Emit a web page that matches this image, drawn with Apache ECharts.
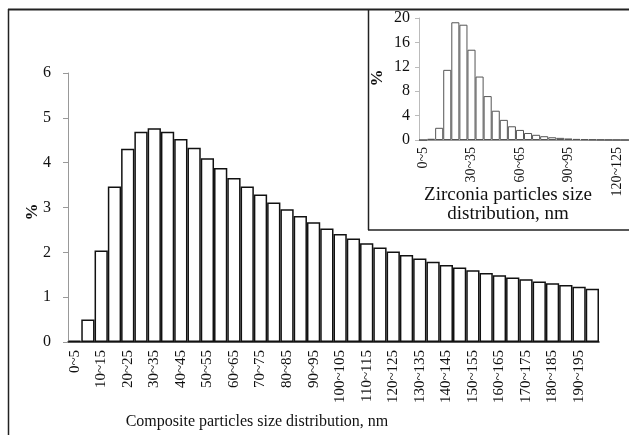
<!DOCTYPE html>
<html>
<head>
<meta charset="utf-8">
<script src="https://cdn.jsdelivr.net/npm/echarts@6/dist/echarts.min.js"></script>
<style>html,body{margin:0;padding:0;background:#fff}#c{width:629px;height:435px}</style>
</head>
<body>
<div id="c"></div>
<script>
var mainCategories = ["0~5","5~10","10~15","15~20","20~25","25~30","30~35","35~40","40~45","45~50",
"50~55","55~60","60~65","65~70","70~75","75~80","80~85","85~90","90~95","95~100",
"100~105","105~110","110~115","115~120","120~125","125~130","130~135","135~140","140~145","145~150",
"150~155","155~160","160~165","165~170","170~175","175~180","180~185","185~190","190~195","195~200"];
var mainValues = [0.03,0.50,2.04,3.47,4.31,4.69,4.77,4.69,4.53,4.33,
4.10,3.88,3.66,3.47,3.29,3.11,2.96,2.81,2.67,2.53,
2.41,2.31,2.20,2.11,2.02,1.94,1.86,1.79,1.72,1.66,
1.60,1.54,1.49,1.44,1.40,1.35,1.31,1.27,1.23,1.19];
var mainYTicks = {min:0, max:6, interval:1};

var insetCategories = ["0~5","5~10","10~15","15~20","20~25","25~30","30~35","35~40","40~45","45~50",
"50~55","55~60","60~65","65~70","70~75","75~80","80~85","85~90","90~95","95~100",
"100~105","105~110","110~115","115~120","120~125","125~130"];
var insetValues = [0,0.2,2.0,11.5,19.3,18.9,14.8,10.4,7.2,4.8,
3.3,2.25,1.65,1.15,0.85,0.62,0.45,0.35,0.25,0.18,
0.13,0.1,0.07,0.05,0.04,0.03];
var insetYTicks = {min:0, max:20, interval:4};

var F = '"Liberation Serif","DejaVu Serif",serif';
var chart = echarts.init(document.getElementById('c'));
chart.setOption({
  animation:false,
  backgroundColor:'#fff',
  grid:[
    {left:68, top:73, width:531, height:269},
    {left:419, top:18, width:213, height:122}
  ],
  xAxis:[
    {type:'category', gridIndex:0, data:mainCategories,
     axisLine:{lineStyle:{color:'#222', width:1.5}},
     axisTick:{interval:0, length:5, lineStyle:{color:'#222'}},
     axisLabel:{interval:1, rotate:90, fontFamily:F, fontSize:15, color:'#111', margin:8}},
    {type:'category', gridIndex:1, data:insetCategories,
     axisLine:{lineStyle:{color:'#999', width:1}},
     axisTick:{interval:0, length:4, lineStyle:{color:'#999'}},
     axisLabel:{interval:5, rotate:90, fontFamily:F, fontSize:14, color:'#111', margin:7}}
  ],
  yAxis:[
    {type:'value', gridIndex:0, min:mainYTicks.min, max:mainYTicks.max, interval:mainYTicks.interval,
     splitLine:{show:false},
     axisLine:{show:true, lineStyle:{color:'#999'}},
     axisTick:{show:true, length:5, lineStyle:{color:'#999'}},
     axisLabel:{fontFamily:F, fontSize:16, color:'#111', margin:17}},
    {type:'value', gridIndex:1, min:insetYTicks.min, max:insetYTicks.max, interval:insetYTicks.interval,
     splitLine:{show:false},
     axisLine:{show:true, lineStyle:{color:'#bbb'}},
     axisTick:{show:true, length:4, lineStyle:{color:'#bbb'}},
     axisLabel:{fontFamily:F, fontSize:16, color:'#111', margin:9}}
  ],
  series:[
    {type:'bar', xAxisIndex:0, yAxisIndex:0, data:mainValues, barWidth:'100%',
     itemStyle:{color:'#fff', borderColor:'#111', borderWidth:1.5}},
    {type:'bar', xAxisIndex:1, yAxisIndex:1, data:insetValues, barWidth:'100%',
     itemStyle:{color:'#fff', borderColor:'#555', borderWidth:1}}
  ],
  graphic:[
    {type:'line', shape:{x1:8.5,y1:9,x2:8.5,y2:435}, style:{stroke:'#222', lineWidth:1.5}, z:10},
    {type:'line', shape:{x1:8,y1:9.5,x2:629,y2:9.5}, style:{stroke:'#222', lineWidth:2}, z:10},
    {type:'line', shape:{x1:368.5,y1:9,x2:368.5,y2:230}, style:{stroke:'#222', lineWidth:1.5}, z:10},
    {type:'line', shape:{x1:368,y1:230,x2:629,y2:230}, style:{stroke:'#222', lineWidth:1.5}, z:10},
    {type:'text', x:33, y:212, rotation:Math.PI/2, style:{text:'%', font:'bold 17px '+F, fill:'#111', textAlign:'center', textVerticalAlign:'middle'}},
    {type:'text', x:378, y:78, rotation:Math.PI/2, style:{text:'%', font:'bold 17px '+F, fill:'#111', textAlign:'center', textVerticalAlign:'middle'}},
    {type:'text', x:257, y:422, style:{text:'Composite particles size distribution, nm', font:'16px '+F, fill:'#111', textAlign:'center', textVerticalAlign:'middle'}},
    {type:'text', x:508, y:195, style:{text:'Zirconia particles size', font:'19px '+F, fill:'#111', textAlign:'center', textVerticalAlign:'middle'}},
    {type:'text', x:508, y:214, style:{text:'distribution, nm', font:'19px '+F, fill:'#111', textAlign:'center', textVerticalAlign:'middle'}}
  ]
});
</script>
</body>
</html>
